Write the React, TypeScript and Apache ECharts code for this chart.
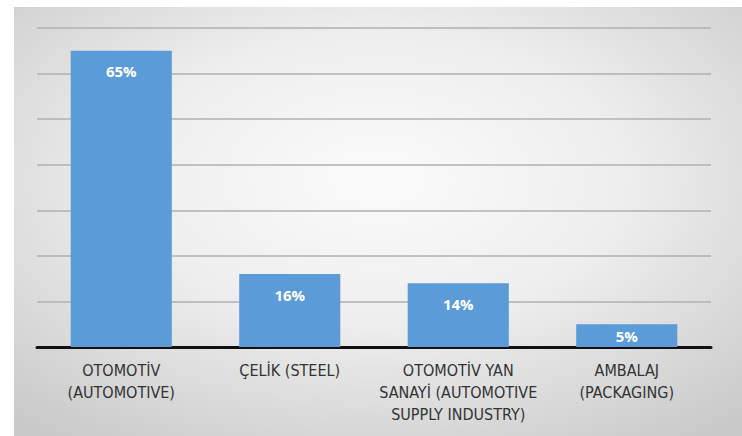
import React, { useEffect, useRef } from "react";
import * as echarts from "echarts";

const categories = [
  "OTOMOTİV\n(AUTOMOTIVE)",
  "ÇELİK (STEEL)",
  "OTOMOTİV YAN\nSANAYİ (AUTOMOTIVE\nSUPPLY INDUSTRY)",
  "AMBALAJ\n(PACKAGING)",
];
const values = [65, 16, 14, 5];
const yMin = 0;
const yMax = 70;
const yInterval = 10;

const FONT = "'Liberation Sans Narrow', 'DejaVu Sans Condensed', 'Open Sans', sans-serif";

export default function App() {
  const ref = useRef<HTMLDivElement>(null);
  useEffect(() => {
    if (!ref.current) return;
    const chart = echarts.init(ref.current, undefined, { renderer: "svg" });
    const barLabel = {
      show: true,
      position: "insideTop",
      distance: 13,
      formatter: "{c}%",
      color: "#ffffff",
      fontWeight: "bold",
      fontSize: 15,
      fontFamily: "'Open Sans', sans-serif",
    };
    chart.setOption({
      animation: false,
      backgroundColor: "#ffffff",
      graphic: [
        {
          type: "rect",
          z: -10,
          silent: true,
          shape: { x: 14, y: 7, width: 728, height: 429 },
          style: {
            fill: new echarts.graphic.RadialGradient(0.5, 0.4, 0.75, [
              { offset: 0, color: "#fbfbfb" },
              { offset: 0.45, color: "#eeeeee" },
              { offset: 1, color: "#c9c9c9" },
            ]),
          },
        },
      ],
      grid: { left: 37, right: 31, top: 28, bottom: 89, containLabel: false },
      xAxis: {
        type: "category",
        data: categories,
        axisLine: { show: true, lineStyle: { color: "#111111", width: 3 } },
        axisTick: { show: false },
        axisLabel: {
          color: "#333333",
          fontFamily: FONT,
          fontSize: 16,
          lineHeight: 22,
          margin: 12,
          interval: 0,
        },
      },
      yAxis: {
        type: "value",
        min: yMin,
        max: yMax,
        interval: yInterval,
        axisLabel: { show: false },
        axisLine: { show: false },
        axisTick: { show: false },
        splitLine: { show: true, lineStyle: { color: "#b0b0b0", width: 1.5 } },
      },
      series: [
        {
          type: "bar",
          data: values.map((v, i) =>
            i === values.length - 1
              ? { value: v, label: { position: "inside", distance: 0 } }
              : v
          ),
          barWidth: "60%",
          itemStyle: { color: "#5b9bd8" },
          label: barLabel,
        },
      ],
    });
    return () => chart.dispose();
  }, []);
  return (
    <div
      ref={ref}
      style={{ position: "fixed", left: 0, top: 0, width: 742, height: 436 }}
    />
  );
}
